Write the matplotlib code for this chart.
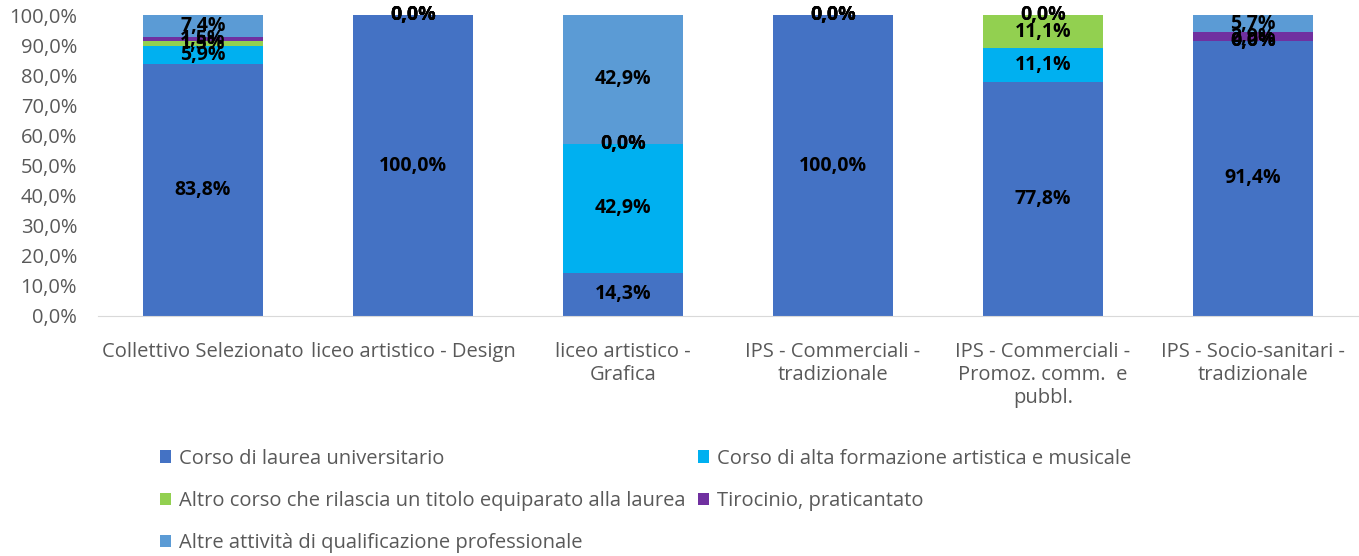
import numpy as np
import matplotlib
matplotlib.use('Agg')
import matplotlib.pyplot as plt

categories = ['Collettivo Selezionato', 'liceo artistico - Design', 'liceo artistico -\nGrafica',
              'IPS - Commerciali -\ntradizionale', 'IPS - Commerciali -\nPromoz. comm.  e\npubbl.',
              'IPS - Socio-sanitari -\ntradizionale']
series_names = ['Corso di laurea universitario',
                'Corso di alta formazione artistica e musicale',
                'Altro corso che rilascia un titolo equiparato alla laurea',
                'Tirocinio, praticantato',
                'Altre attività di qualificazione professionale']
laurea = [83.8, 100.0, 14.3, 100.0, 77.8, 91.4]
alta_formazione = [5.9, 0.0, 42.9, 0.0, 11.1, 0.0]
altro_corso = [1.5, 0.0, 0.0, 0.0, 11.1, 0.0]
tirocinio = [1.5, 0.0, 0.0, 0.0, 0.0, 2.9]
altre = [7.4, 0.0, 42.9, 0.0, 0.0, 5.7]
colors = ['#4472C4', '#00B0F0', '#92D050', '#7030A0', '#5B9BD5']

plt.rcParams['font.family'] = ['Open Sans', 'DejaVu Sans']

fig = plt.figure(figsize=(13.59, 5.56), dpi=100)
ax = fig.add_axes([98 / 1359, 1 - 316 / 556, 1260 / 1359, 301 / 556])

x = np.arange(len(categories))
bottom = np.zeros(len(categories))
handles = []
for name, vals, col in zip(series_names, [laurea, alta_formazione, altro_corso, tirocinio, altre], colors):
    vals = np.array(vals)
    h = ax.bar(x, vals, 0.57, bottom=bottom, color=col, label=name)
    handles.append(h)
    for xi, b, v in zip(x, bottom, vals):
        lbl = f'{v:.1f}%'.replace('.', ',')
        ax.text(xi, b + v / 2, lbl, ha='center', va='center', fontsize=14,
                fontweight='bold', color='black')
    bottom += vals

ax.set_xlim(-0.5, len(categories) - 0.5)
ax.set_ylim(0, 100)
ax.set_yticks(np.arange(0, 101, 10))
ax.set_yticklabels([f'{t:.1f}%'.replace('.', ',') for t in np.arange(0, 101, 10)])
ax.set_xticks(x)
ax.set_xticklabels(categories)
ax.tick_params(axis='both', colors='#595959', labelsize=14.5, length=0)
ax.tick_params(axis='x', pad=19)
ax.tick_params(axis='y', pad=15)
for s in ['top', 'right', 'left']:
    ax.spines[s].set_visible(False)
ax.spines['bottom'].set_color('#D9D9D9')

order = [0, 2, 4, 1, 3]
fig.legend([handles[i] for i in order], [series_names[i] for i in order],
           loc='lower left', bbox_to_anchor=(142 / 1359, -15 / 556), ncol=2, frameon=False,
           fontsize=14.5, labelcolor='#595959', handlelength=0.55, handleheight=0.55,
           labelspacing=1.1, columnspacing=0.6, handletextpad=0.4)

plt.savefig('out.png', dpi=100)
